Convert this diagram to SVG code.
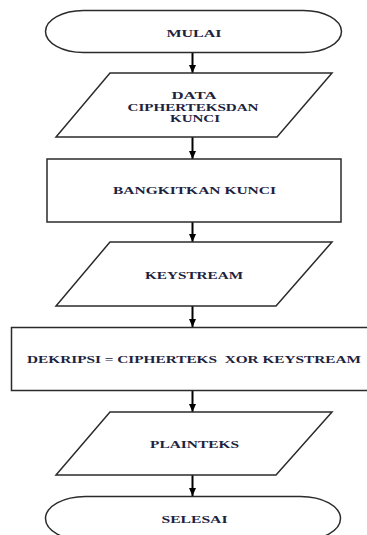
<svg xmlns="http://www.w3.org/2000/svg" width="367" height="535" viewBox="0 0 367 535">
<defs>
<style>
.s{fill:#fff;stroke:#2b2b2b;stroke-width:1.5}
.t{font-family:"Liberation Serif","Times New Roman",serif;font-weight:bold;font-size:11px;fill:#1c2340;text-anchor:middle}
.c{stroke:#000;stroke-width:2;fill:none}
</style>
<marker id="ah" markerWidth="8" markerHeight="7" refX="8" refY="3.5" orient="auto" markerUnits="userSpaceOnUse">
<path d="M0,0 L8,3.5 L0,7 Z" fill="#000"/>
</marker>
</defs>
<rect width="367" height="535" fill="#fff"/>
<g id="connectors">
<line class="c" x1="192.5" y1="53" x2="192.5" y2="73" marker-end="url(#ah)"/>
<line class="c" x1="192.5" y1="137" x2="192.5" y2="159" marker-end="url(#ah)"/>
<line class="c" x1="192.5" y1="222" x2="192.5" y2="242" marker-end="url(#ah)"/>
<line class="c" x1="192.5" y1="306" x2="192.5" y2="327" marker-end="url(#ah)"/>
<line class="c" x1="192.5" y1="391" x2="192.5" y2="412" marker-end="url(#ah)"/>
<line class="c" x1="192.5" y1="475" x2="192.5" y2="496" marker-end="url(#ah)"/>
</g>
<g id="mulai">
<rect class="s" x="45.5" y="10.5" width="296" height="42" rx="38" ry="21"/>
<text class="t" x="194" y="36.5" textLength="55" lengthAdjust="spacingAndGlyphs">MULAI</text>
</g>
<g id="data">
<polygon class="s" points="110,73 332,73 277,137 56,137"/>
<text class="t" x="194" y="99" textLength="45" lengthAdjust="spacingAndGlyphs">DATA</text>
<text class="t" x="193" y="110.5" textLength="131" lengthAdjust="spacingAndGlyphs">CIPHERTEKSDAN</text>
<text class="t" x="195" y="121.5" textLength="50" lengthAdjust="spacingAndGlyphs">KUNCI</text>
</g>
<g id="bangkitkan">
<rect class="s" x="47" y="159" width="294" height="63"/>
<text class="t" x="194.5" y="194" textLength="163" lengthAdjust="spacingAndGlyphs">BANGKITKAN KUNCI</text>
</g>
<g id="keystream">
<polygon class="s" points="110,242 332,242 276,306 56,306"/>
<text class="t" x="194" y="279" textLength="98" lengthAdjust="spacingAndGlyphs">KEYSTREAM</text>
</g>
<g id="dekripsi">
<rect class="s" x="11.5" y="327.5" width="362" height="63"/>
<text class="t" x="194" y="363" textLength="334" lengthAdjust="spacingAndGlyphs" xml:space="preserve" style="white-space:pre">DEKRIPSI = CIPHERTEKS  XOR KEYSTREAM</text>
</g>
<g id="plainteks">
<polygon class="s" points="110,412 332,412 276,475 56,475"/>
<text class="t" x="194.5" y="448" textLength="89" lengthAdjust="spacingAndGlyphs">PLAINTEKS</text>
</g>
<g id="selesai">
<rect class="s" x="45.5" y="496.5" width="295" height="44" rx="40" ry="22"/>
<text class="t" x="194.5" y="523" textLength="66" lengthAdjust="spacingAndGlyphs">SELESAI</text>
</g>
</svg>
